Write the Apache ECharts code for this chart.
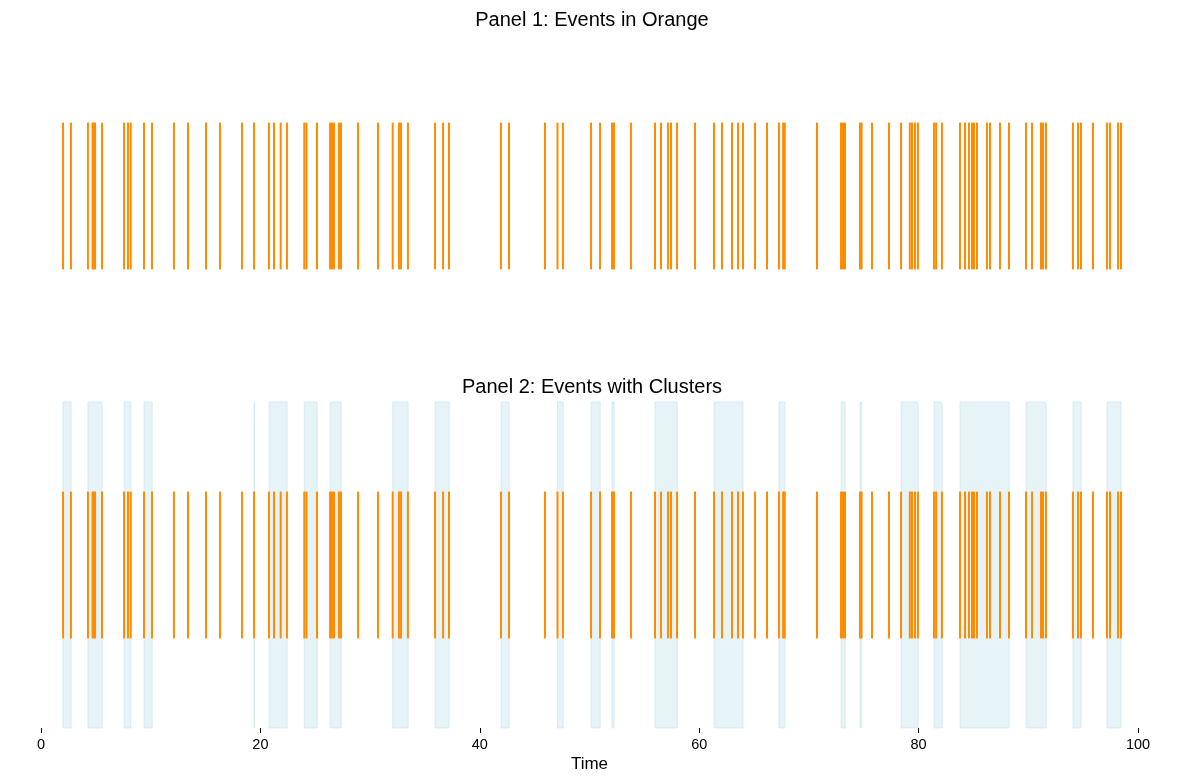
<!DOCTYPE html>
<html>
<head>
<meta charset="utf-8">
<script src="https://cdn.jsdelivr.net/npm/echarts@6/dist/echarts.min.js"></script>
<style>html,body{margin:0;padding:0;background:#fff}#c{width:1184px;height:784px}</style>
</head>
<body>
<div id="c"></div>
<script>
const events = [2.01, 2.73, 4.28, 4.70, 4.82, 4.93, 5.56, 7.57, 7.93, 8.18, 9.39, 10.12, 12.12, 13.40, 15.04, 16.32, 18.32, 19.42, 20.78, 21.24, 21.85, 22.42, 24.0, 24.2, 25.16, 26.35, 26.53, 26.71, 27.16, 27.35, 28.90, 30.72, 32.06, 32.63, 32.82, 33.45, 35.92, 36.65, 37.19, 41.93, 42.66, 45.94, 47.08, 47.58, 50.14, 50.96, 52.05, 52.23, 53.78, 55.97, 56.52, 57.16, 57.43, 57.98, 59.62, 61.35, 62.08, 62.99, 63.54, 63.99, 65.09, 66.18, 67.27, 67.65, 67.8, 70.74, 72.93, 73.11, 73.29, 74.66, 74.8, 75.75, 77.30, 78.40, 79.2, 79.4, 79.67, 79.94, 81.4, 81.6, 82.13, 83.77, 84.23, 84.59, 84.87, 85.05, 85.32, 86.23, 86.51, 87.42, 88.24, 89.79, 90.34, 91.16, 91.34, 91.61, 94.07, 94.53, 94.80, 95.90, 97.17, 97.45, 98.18, 98.45];
const clusterStarts = [2.0, 4.28, 7.57, 9.39, 19.42, 20.78, 24.0, 26.35, 32.06, 35.92, 41.93, 47.08, 50.14, 52.05, 55.97, 61.35, 67.27, 72.93, 74.66, 78.40, 81.4, 83.77, 89.79, 94.07, 97.17];
const clusterEnds   = [2.75, 5.58, 8.2, 10.14, 19.46, 22.44, 25.18, 27.37, 33.47, 37.21, 42.68, 47.6, 50.98, 52.25, 58.0, 64.0, 67.82, 73.31, 74.82, 79.96, 82.15, 88.26, 91.63, 94.82, 98.47];
const xTicks = [0, 20, 40, 60, 80, 100];
const titles = ['Panel 1: Events in Orange', 'Panel 2: Events with Clusters'];

const FONT = "'Liberation Sans', Arial, sans-serif";
const eventData = events.map(v => [v, 1]);
const clusterData = clusterStarts.map((s, i) => [s, clusterEnds[i]]);

function renderEvent(params, api) {
  const x = api.value(0);
  const p1 = api.coord([x, 0.5]);
  const p2 = api.coord([x, 1.5]);
  return {type: 'line', shape: {x1: p1[0], y1: p1[1], x2: p2[0], y2: p2[1]},
          style: {stroke: '#ff8c00', lineWidth: 2}};
}
function renderCluster(params, api) {
  const cs = params.coordSys;
  const a = api.coord([api.value(0), 0])[0];
  const b = api.coord([api.value(1), 0])[0];
  return {type: 'rect', shape: {x: a, y: cs.y, width: Math.max(b - a, 0.5), height: cs.height},
          style: {fill: 'rgba(173,216,230,0.3)', stroke: 'rgba(173,216,230,0.35)', lineWidth: 1}};
}

const chart = echarts.init(document.getElementById('c'));
chart.setOption({
  animation: false,
  backgroundColor: '#fff',
  title: [
    {text: titles[0], left: 'center', top: 5, textStyle: {fontFamily: FONT, fontSize: 20, fontWeight: 'normal', color: '#000'}},
    {text: titles[1], left: 'center', top: 372, textStyle: {fontFamily: FONT, fontSize: 20, fontWeight: 'normal', color: '#000'}}
  ],
  grid: [
    {left: 41, right: 46, top: 33, height: 326},
    {left: 41, right: 46, top: 402, height: 326}
  ],
  xAxis: [
    {gridIndex: 0, type: 'value', min: 0, max: 100, show: false},
    {gridIndex: 1, type: 'value', min: 0, max: 100, interval: 20, position: 'bottom',
     axisLine: {show: false, onZero: false}, splitLine: {show: false},
     axisTick: {show: true, inside: false, length: 5, lineStyle: {color: '#000'}},
     axisLabel: {color: '#000', fontFamily: FONT, fontSize: 14.5, margin: 9,
                 formatter: v => xTicks.includes(v) ? String(v) : ''},
     name: 'Time', nameLocation: 'middle', nameGap: 28,
     nameTextStyle: {color: '#000', fontFamily: FONT, fontSize: 17}}
  ],
  yAxis: [
    {gridIndex: 0, type: 'value', min: -0.11, max: 2.11, show: false},
    {gridIndex: 1, type: 'value', min: -0.11, max: 2.11, show: false}
  ],
  series: [
    {type: 'custom', xAxisIndex: 0, yAxisIndex: 0, data: eventData, renderItem: renderEvent, encode: {x: 0, y: 1}, z: 3},
    {type: 'custom', xAxisIndex: 1, yAxisIndex: 1, data: clusterData, renderItem: renderCluster, encode: {x: [0, 1]}, z: 1},
    {type: 'custom', xAxisIndex: 1, yAxisIndex: 1, data: eventData, renderItem: renderEvent, encode: {x: 0, y: 1}, z: 3}
  ]
});
</script>
</body>
</html>
